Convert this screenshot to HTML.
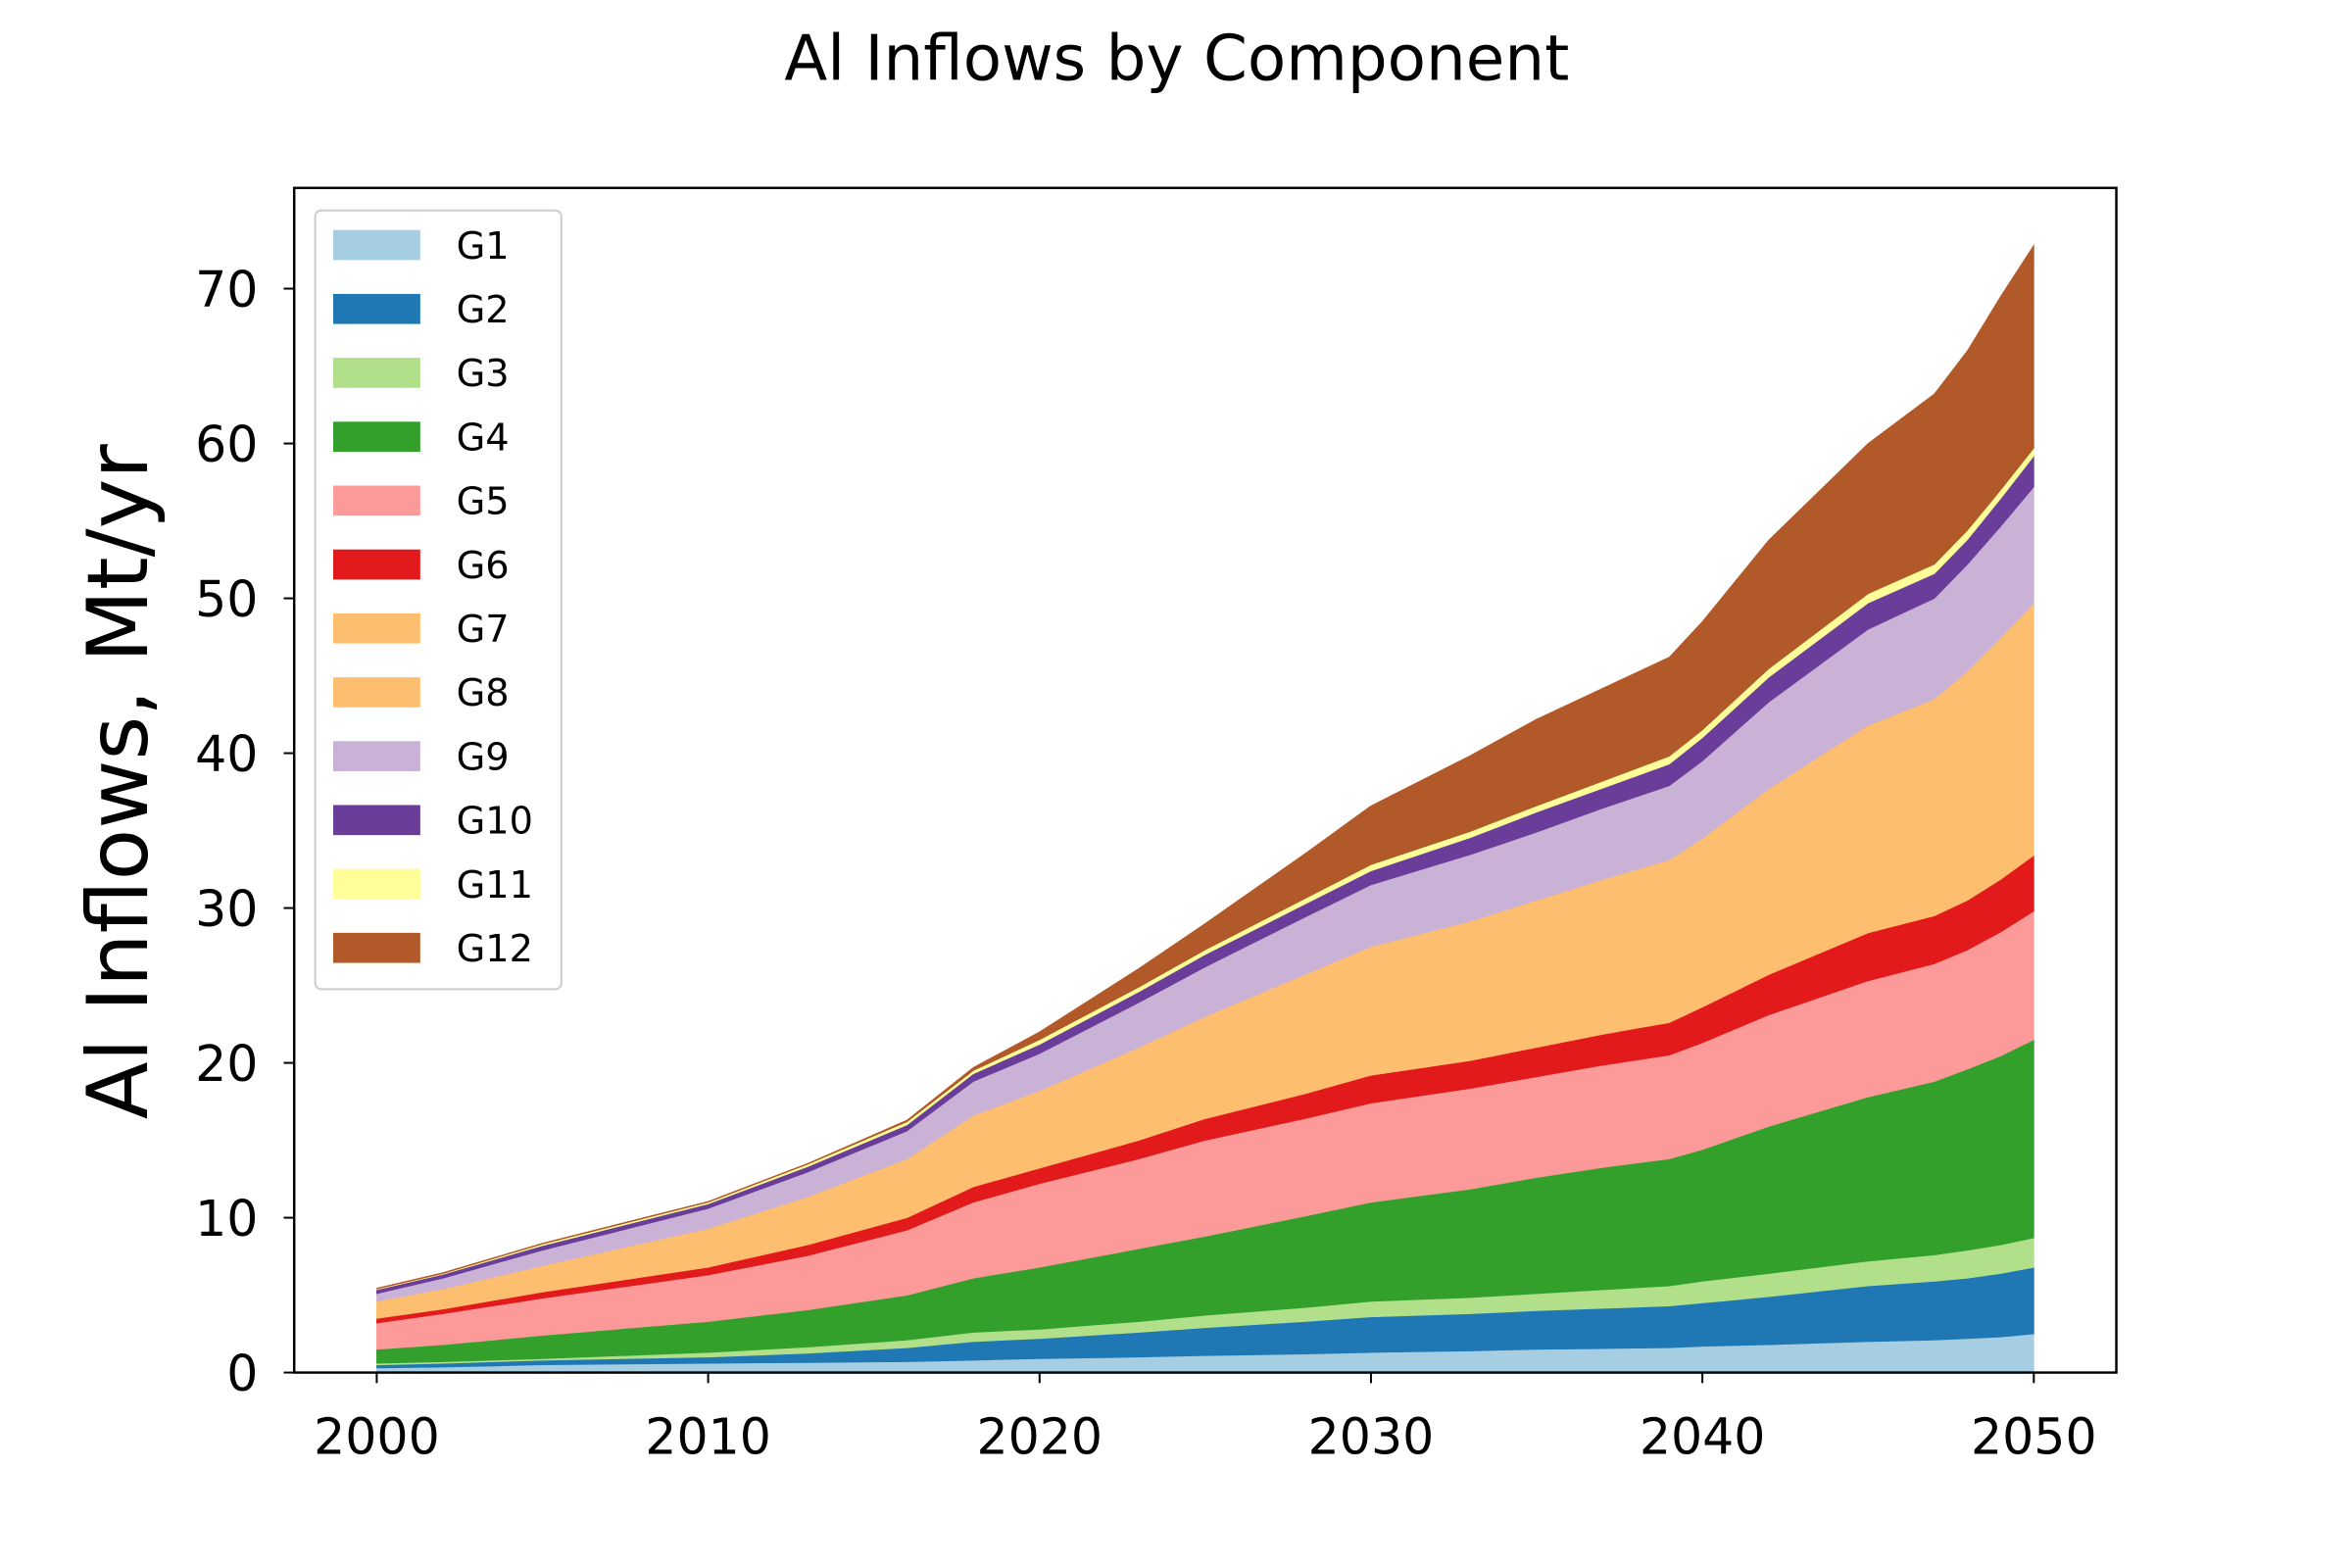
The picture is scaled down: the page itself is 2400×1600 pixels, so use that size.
<!DOCTYPE html>
<html><head><meta charset="utf-8"><style>
html,body{margin:0;padding:0;background:#fff;}
svg{display:block;font-family:"DejaVu Sans","Liberation Sans",sans-serif;}
</style></head><body>
<svg id="chart" width="2400" height="1600" viewBox="0 0 1567 1043" preserveAspectRatio="none" xmlns="http://www.w3.org/2000/svg">
<rect width="1567" height="1043" fill="#fff"/>
<text x="784" y="53" font-size="42" text-anchor="middle">Al Inflows by Component</text>
<g id="areas"></g>
<g id="axes"></g>
<text transform="translate(98,520) rotate(-90)" font-size="56" text-anchor="middle">Al Inflows, Mt/yr</text>
<g id="legend"></g>
</svg>
<script>
const years = [2000,2002,2005,2010,2013,2016,2018,2020,2023,2025,2028,2030,2033,2035,2037,2039,2040,2042,2045,2047,2048,2049,2050];
const seriesNames = ["G1","G2","G3","G4","G5","G6","G7","G8","G9","G10","G11","G12"];
const seriesColors = ["#a6cee3","#1f78b4","#b2df8a","#33a02c","#fb9a99","#e31a1c","#fdbf6f","#fdbf6f","#cab2d6","#6a3d9a","#ffff99","#b15928"];
const g1 = [0.3,0.35,0.5,0.6,0.65,0.7,0.8,0.9,1.0,1.1,1.2,1.3,1.4,1.5,1.55,1.6,1.7,1.8,2.0,2.1,2.2,2.3,2.5];
const g2 = [0.2,0.25,0.3,0.4,0.6,0.9,1.2,1.3,1.6,1.8,2.1,2.3,2.4,2.5,2.6,2.7,2.8,3.1,3.6,3.8,3.9,4.1,4.3];
const g3 = [0.1,0.1,0.1,0.3,0.4,0.5,0.6,0.6,0.7,0.8,0.9,1.0,1.05,1.1,1.2,1.3,1.4,1.5,1.6,1.7,1.8,1.85,1.9];
const g4 = [0.9,1.1,1.5,2.0,2.4,2.9,3.5,4.0,4.7,5.1,5.9,6.4,7.0,7.5,7.9,8.2,8.5,9.5,10.6,11.2,11.7,12.2,12.8];
const g5 = [1.7,2.0,2.4,3.0,3.5,4.2,4.9,5.4,5.8,6.2,6.3,6.4,6.5,6.5,6.6,6.7,6.9,7.2,7.5,7.6,7.7,8.0,8.3];
const g6 = [0.3,0.3,0.4,0.5,0.7,0.8,1.0,1.0,1.2,1.4,1.6,1.8,1.8,1.9,2.0,2.1,2.3,2.6,3.1,3.1,3.2,3.4,3.6];
const g7 = [0.8,0.9,1.1,1.2,1.3,1.5,1.0,1.2,1.3,1.4,1.9,2.2,2.4,2.5,2.4,2.4,2.4,3.0,3.6,3.8,4.0,4.1,4.2];
const g8 = [0.3,0.4,0.6,1.3,1.8,2.3,3.6,3.8,4.7,5.2,5.8,6.1,6.6,7.0,7.6,8.1,8.5,9.0,9.8,10.2,10.8,11.5,12.1];
const g9 = [0.5,0.7,1.0,1.3,1.6,1.8,2.2,2.4,2.9,3.2,3.7,4.0,4.3,4.4,4.6,4.8,5.0,5.6,6.2,6.5,6.9,7.2,7.5];
const g10 = [0.25,0.25,0.3,0.3,0.35,0.4,0.5,0.6,0.7,0.8,0.85,0.9,1.1,1.3,1.3,1.4,1.5,1.6,1.7,1.6,1.6,1.8,2.0];
const g11 = [0.05,0.05,0.1,0.1,0.15,0.2,0.2,0.3,0.3,0.3,0.35,0.4,0.4,0.4,0.45,0.5,0.5,0.55,0.6,0.6,0.6,0.55,0.5];
const g12 = [0.05,0.05,0.05,0.05,0.05,0.1,0.2,0.5,1.2,1.7,2.9,3.8,4.9,5.6,6.0,6.4,7.0,8.3,9.7,11.0,11.6,12.5,13.1];
const seriesValues = [g1,g2,g3,g4,g5,g6,g7,g8,g9,g10,g11,g12];
const yTicks = [0,10,20,30,40,50,60,70];
const xTicks = [2000,2010,2020,2030,2040,2050];

const X0=196,X1=1410,Y0=125,Y1=913;
function xs(v){return 251+(v-2000)*(1355-251)/50;}
function ys(v){return 913-v*(913-192)/70;}
const NS="http://www.w3.org/2000/svg";
function mk(tag,attrs,parent){const e=document.createElementNS(NS,tag);for(const k in attrs)e.setAttribute(k,attrs[k]);parent.appendChild(e);return e;}

const areas=document.getElementById('areas');
let base=years.map(()=>0);
seriesValues.forEach((vals,i)=>{
  const top=base.map((b,j)=>b+vals[j]);
  let d="M"+years.map((y,j)=>xs(y)+","+ys(top[j])).join("L");
  for(let j=years.length-1;j>=0;j--) d+="L"+xs(years[j])+","+ys(base[j]);
  d+="Z";
  const p=mk('path',{d:d,fill:seriesColors[i],stroke:seriesColors[i],'stroke-width':0.5},areas);
  
  
  base=top;
});

const axes=document.getElementById('axes');
const frame=mk('rect',{x:X0,y:Y0,width:X1-X0,height:Y1-Y0,fill:'none',stroke:'#000','stroke-width':1.6},axes);


yTicks.forEach(t=>{
  const y=ys(t);
  mk('line',{x1:X0-7,x2:X0,y1:y,y2:y,stroke:'#000','stroke-width':1.3},axes);
  const tx=mk('text',{x:X0-24,y:y+12,'font-size':33,'text-anchor':'end'},axes);
  tx.textContent=t;
  
  
});
xTicks.forEach(t=>{
  const x=xs(t);
  mk('line',{x1:x,x2:x,y1:Y1,y2:Y1+7,stroke:'#000','stroke-width':1.3},axes);
  const tx=mk('text',{x:x,y:Y1+54,'font-size':33,'text-anchor':'middle'},axes);
  tx.textContent=t;
  
  
});

const leg=document.getElementById('legend');
const box=mk('rect',{x:210,y:140,width:164,height:518,rx:4,fill:'#fff','fill-opacity':0.8,stroke:'#ccc','stroke-width':1.3},leg);


seriesNames.forEach((n,i)=>{
  const y=163+i*42.5;
  const g=mk('g',{},leg);
  
  
  mk('rect',{x:222,y:y-10,width:58,height:20,fill:seriesColors[i]},g);
  const t=mk('text',{x:304,y:y+9,'font-size':25},g);
  t.textContent=n;
});
</script>
</body></html>
